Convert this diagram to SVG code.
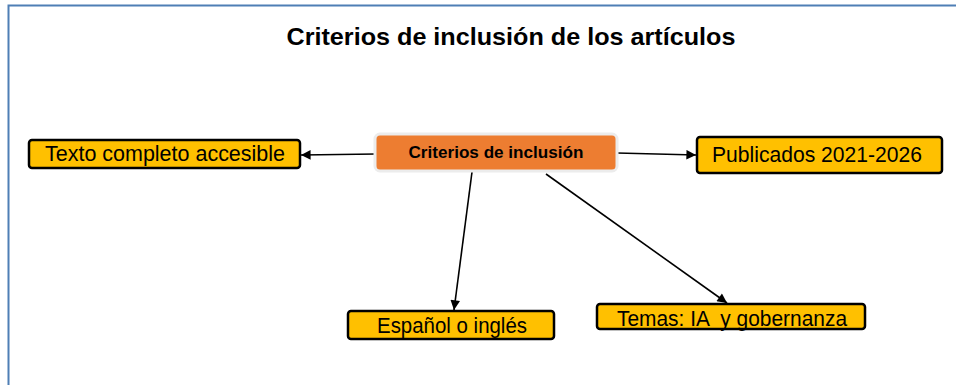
<svg xmlns="http://www.w3.org/2000/svg" width="956" height="385" viewBox="0 0 956 385">
<style>
.frame{fill:none;stroke:#4f7fb5;stroke-width:2}
.title{font-family:"Liberation Sans",Arial,sans-serif;font-weight:bold;font-size:24px;fill:#000}
.leaf rect{fill:#FFC000;stroke:#000;stroke-width:2.5}
.leaf text{font-family:"Liberation Sans",Arial,sans-serif;font-size:22px;fill:#000;text-anchor:middle}
.center rect{fill:#ED7D31;stroke:#ececec;stroke-width:3}
.center text{font-family:"Liberation Sans",Arial,sans-serif;font-weight:bold;font-size:16px;fill:#000;text-anchor:middle}
.conn line{stroke:#000;stroke-width:1.6;marker-end:url(#ah)}
</style>
<defs>
<marker id="ah" viewBox="0 0 10 10" refX="10" refY="5" markerWidth="7" markerHeight="6" orient="auto" markerUnits="strokeWidth">
<path d="M0,0 L10,5 L0,10 z" fill="#000"/>
</marker>
</defs>
<rect width="956" height="385" fill="#fff"/>
<path class="frame" d="M8.5,385 L8.5,5.5 L956,5.5"/>
<text class="title" x="511" y="45" text-anchor="middle" textLength="449" lengthAdjust="spacingAndGlyphs">Criterios de inclusión de los artículos</text>
<g class="conn" id="connectors">
<line x1="376" y1="154" x2="301" y2="155"/>
<line x1="617" y1="153" x2="696" y2="155"/>
<line x1="472" y1="172" x2="454" y2="310"/>
<line x1="546" y1="174" x2="727" y2="303"/>
</g>
<g id="center" class="center">
<rect x="375" y="134" width="242" height="37" rx="5"/>
<text x="496" y="158" textLength="175" lengthAdjust="spacingAndGlyphs">Criterios de inclusión</text>
</g>
<g id="texto" class="leaf">
<rect x="29" y="140" width="271" height="28" rx="3"/>
<text x="165" y="161" textLength="240" lengthAdjust="spacingAndGlyphs">Texto completo accesible</text>
</g>
<g id="publicados" class="leaf">
<rect x="697" y="137" width="245" height="36" rx="3"/>
<text x="817" y="162" font-size="20" textLength="210" lengthAdjust="spacingAndGlyphs">Publicados 2021-2026</text>
</g>
<g id="espanol" class="leaf">
<rect x="348" y="311" width="206" height="28" rx="3"/>
<text x="452" y="333" textLength="150" lengthAdjust="spacingAndGlyphs">Español o inglés</text>
</g>
<g id="temas" class="leaf">
<rect x="597" y="304" width="268" height="25" rx="3"/>
<text x="732" y="326" textLength="230" lengthAdjust="spacingAndGlyphs" xml:space="preserve">Temas: IA  y gobernanza</text>
</g>
</svg>
